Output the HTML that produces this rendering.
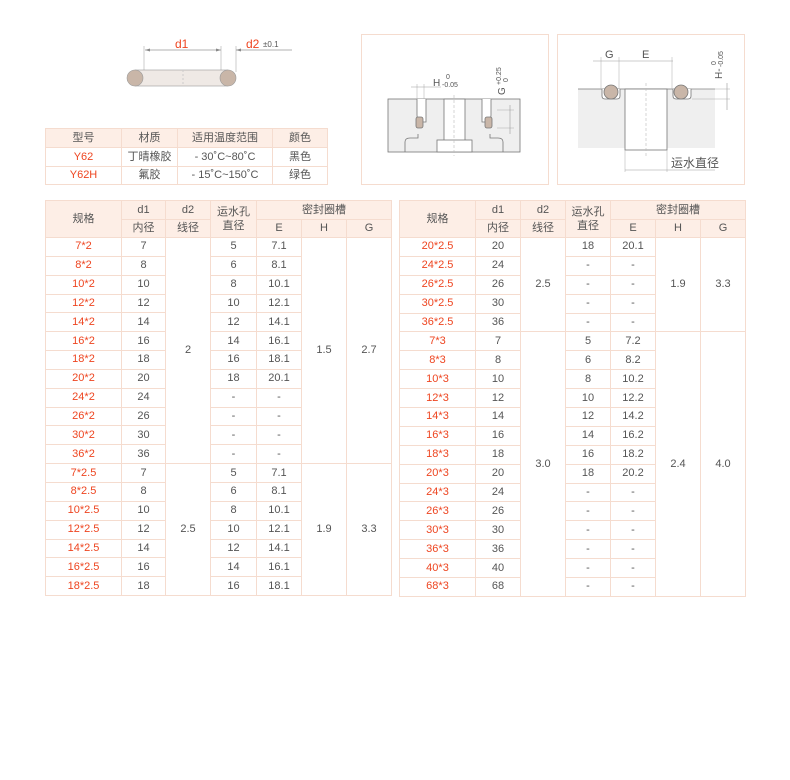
<!DOCTYPE html>
<html><head><meta charset="utf-8"><style>
body{margin:0;background:#fff;width:790px;height:780px;position:relative;font-family:"Liberation Sans","Noto Sans CJK SC",sans-serif;color:#555;font-size:11px;overflow:hidden}
table{position:absolute;border-collapse:collapse;table-layout:fixed}
td{border:1px solid #f5dccf;text-align:center;padding:0;line-height:1;white-space:nowrap;overflow:hidden}
.h td{background:#fdeee6}
.r{color:#ee4520}
.box{position:absolute;border:1px solid #f5dccf;box-sizing:border-box}
#t3 tr.d td.r{height:17.9px}
</style></head><body>

<svg style="position:absolute;left:0;top:0" width="790" height="200">
 <line x1="145" y1="50" x2="221" y2="50" stroke="#999" stroke-width="0.7"/>
 <polygon points="145,50 150,48.5 150,51.5" fill="#888"/><polygon points="221,50 216,48.5 216,51.5" fill="#888"/>
 <line x1="144" y1="46" x2="144" y2="72" stroke="#aaa" stroke-width="0.6"/>
 <line x1="221" y1="46" x2="221" y2="72" stroke="#aaa" stroke-width="0.6"/>
 <line x1="236" y1="46" x2="236" y2="72" stroke="#aaa" stroke-width="0.6"/>
 <line x1="236" y1="50" x2="292" y2="50" stroke="#999" stroke-width="0.7"/>
 <polygon points="236,50 241,48.5 241,51.5" fill="#888"/>
 <text x="175" y="48" fill="#ee4520" font-size="12">d1</text>
 <text x="246" y="48" fill="#ee4520" font-size="12">d2</text>
 <text x="263" y="47" fill="#555" font-size="8">±0.1</text>
 <rect x="135" y="70" width="93" height="16" fill="#efe9e5" stroke="#999" stroke-width="0.6"/>
 <line x1="183" y1="70" x2="183" y2="86" stroke="#ccc" stroke-dasharray="2,2"/>
 <circle cx="135" cy="78" r="8" fill="#c9b6a8" stroke="#999" stroke-width="0.6"/>
 <circle cx="228" cy="78" r="8" fill="#c9b6a8" stroke="#999" stroke-width="0.6"/>
</svg>

<div class="box" style="left:361px;top:34px;width:188px;height:151px"></div>
<div class="box" style="left:557px;top:34px;width:188px;height:151px"></div>

<svg style="position:absolute;left:0;top:0" width="790" height="200">
 <rect x="388" y="99" width="132" height="53" fill="#efefef" stroke="#777" stroke-width="0.8"/>
 <rect x="444" y="99" width="21" height="42" fill="#fff" stroke="#777" stroke-width="0.8"/>
 <rect x="437" y="140" width="35" height="12" fill="#fff" stroke="#777" stroke-width="0.8"/>
 <path d="M417 99 V115 Q417 122 424 122 H426 V99" fill="#fff" stroke="#777" stroke-width="0.8"/>
 <path d="M491 99 V115 Q491 122 484 122 H482 V99" fill="#fff" stroke="#777" stroke-width="0.8"/>
 <rect x="416" y="117" width="7" height="11" rx="2" fill="#c9b6a8" stroke="#777" stroke-width="0.8"/>
 <rect x="485" y="117" width="7" height="11" rx="2" fill="#c9b6a8" stroke="#777" stroke-width="0.8"/>
 <path d="M405 152 V142 Q405 138 410 138 H418 V134 M503 152 V142 Q503 138 498 138 H490 V134" fill="none" stroke="#777" stroke-width="0.8"/>
 <line x1="454" y1="95" x2="454" y2="156" stroke="#bbb" stroke-dasharray="3,2" stroke-width="0.6"/>
 <line x1="411" y1="87" x2="441" y2="87" stroke="#999" stroke-width="0.6"/>
 <line x1="417" y1="84" x2="417" y2="99" stroke="#aaa" stroke-width="0.5"/><line x1="424" y1="84" x2="424" y2="99" stroke="#aaa" stroke-width="0.5"/>
 <text x="433" y="86" font-size="10" fill="#555">H</text><text x="446" y="79" font-size="7" fill="#555">0</text><text x="442" y="87" font-size="7" fill="#555">-0.05</text>
 <line x1="497" y1="110" x2="514" y2="110" stroke="#aaa" stroke-width="0.5"/><line x1="497" y1="128" x2="514" y2="128" stroke="#aaa" stroke-width="0.5"/>
 <line x1="510" y1="105" x2="510" y2="134" stroke="#999" stroke-width="0.6"/>
 <text transform="translate(505,95) rotate(-90)" font-size="10" fill="#555">G</text>
 <text transform="translate(501,85) rotate(-90)" font-size="7" fill="#555">+0.25</text>
 <text transform="translate(508,82) rotate(-90)" font-size="7" fill="#555">0</text>
 <rect x="578" y="89" width="137" height="59" fill="#efefef"/>
 <line x1="578" y1="89" x2="715" y2="89" stroke="#777" stroke-width="0.8"/>
 <rect x="625" y="89" width="42" height="61" fill="#fff" stroke="#777" stroke-width="0.8"/>
 <path d="M602 89 V96 Q602 99 605 99 H617 Q620 99 620 96 V89" fill="#fff" stroke="#777" stroke-width="0.8"/>
 <path d="M673 89 V96 Q673 99 676 99 H688 Q691 99 691 96 V89" fill="#fff" stroke="#777" stroke-width="0.8"/>
 <circle cx="611" cy="92" r="7" fill="#c9b6a8" stroke="#777" stroke-width="0.8"/>
 <circle cx="681" cy="92" r="7" fill="#c9b6a8" stroke="#777" stroke-width="0.8"/>
 <line x1="646" y1="83" x2="646" y2="158" stroke="#bbb" stroke-dasharray="3,2" stroke-width="0.6"/>
 <line x1="593" y1="61" x2="673" y2="61" stroke="#999" stroke-width="0.6"/>
 <line x1="601" y1="57" x2="601" y2="89" stroke="#aaa" stroke-width="0.5"/><line x1="619" y1="57" x2="619" y2="89" stroke="#aaa" stroke-width="0.5"/><line x1="672" y1="57" x2="672" y2="89" stroke="#aaa" stroke-width="0.5"/>
 <text x="605" y="58" font-size="11" fill="#555">G</text><text x="642" y="58" font-size="11" fill="#555">E</text>
 <line x1="692" y1="89" x2="730" y2="89" stroke="#aaa" stroke-width="0.5"/><line x1="692" y1="99" x2="730" y2="99" stroke="#aaa" stroke-width="0.5"/>
 <line x1="727" y1="83" x2="727" y2="110" stroke="#999" stroke-width="0.6"/>
 <text transform="translate(722,79) rotate(-90)" font-size="10" fill="#555">H-</text>
 <text transform="translate(723,67) rotate(-90)" font-size="7" fill="#555">-0.05</text>
 <text transform="translate(716,65) rotate(-90)" font-size="7" fill="#555">0</text>
 <line x1="625" y1="150" x2="625" y2="172" stroke="#aaa" stroke-width="0.5"/><line x1="667" y1="150" x2="667" y2="172" stroke="#aaa" stroke-width="0.5"/>
 <line x1="625" y1="170" x2="715" y2="170" stroke="#999" stroke-width="0.6"/>
 <text x="671" y="167" font-size="12" fill="#555">运水直径</text>
</svg>

<table style="left:45px;top:128px;width:282px">
<colgroup><col style="width:76px"><col style="width:56px"><col style="width:95px"><col style="width:55px"></colgroup>
<tr class="h" style="height:19px"><td>型号</td><td>材质</td><td>适用温度范围</td><td>颜色</td></tr>
<tr style="height:19px"><td class="r">Y62</td><td>丁晴橡胶</td><td>- 30˚C~80˚C</td><td>黑色</td></tr>
<tr style="height:18px"><td class="r">Y62H</td><td>氟胶</td><td>- 15˚C~150˚C</td><td>绿色</td></tr>
</table>

<table style="left:45px;top:200px;width:346px">
<colgroup><col style="width:76px"><col style="width:44px"><col style="width:45px"><col style="width:46px"><col style="width:45px"><col style="width:45px"><col style="width:45px"></colgroup>
<tr class="h" style="height:19px"><td rowspan="2">规格</td><td>d1</td><td>d2</td><td rowspan="2" style="line-height:1.3">运水孔<br>直径</td><td colspan="3">密封圈槽</td></tr>
<tr class="h" style="height:18px"><td>内径</td><td>线径</td><td>E</td><td>H</td><td>G</td></tr>
<tr style="height:18.85px"><td class="r">7*2</td><td>7</td><td rowspan="12">2</td><td>5</td><td>7.1</td><td rowspan="12">1.5</td><td rowspan="12">2.7</td></tr>
<tr style="height:18.85px"><td class="r">8*2</td><td>8</td><td>6</td><td>8.1</td></tr>
<tr style="height:18.85px"><td class="r">10*2</td><td>10</td><td>8</td><td>10.1</td></tr>
<tr style="height:18.85px"><td class="r">12*2</td><td>12</td><td>10</td><td>12.1</td></tr>
<tr style="height:18.85px"><td class="r">14*2</td><td>14</td><td>12</td><td>14.1</td></tr>
<tr style="height:18.85px"><td class="r">16*2</td><td>16</td><td>14</td><td>16.1</td></tr>
<tr style="height:18.85px"><td class="r">18*2</td><td>18</td><td>16</td><td>18.1</td></tr>
<tr style="height:18.85px"><td class="r">20*2</td><td>20</td><td>18</td><td>20.1</td></tr>
<tr style="height:18.85px"><td class="r">24*2</td><td>24</td><td>-</td><td>-</td></tr>
<tr style="height:18.85px"><td class="r">26*2</td><td>26</td><td>-</td><td>-</td></tr>
<tr style="height:18.85px"><td class="r">30*2</td><td>30</td><td>-</td><td>-</td></tr>
<tr style="height:18.85px"><td class="r">36*2</td><td>36</td><td>-</td><td>-</td></tr>
<tr style="height:18.85px"><td class="r">7*2.5</td><td>7</td><td rowspan="7">2.5</td><td>5</td><td>7.1</td><td rowspan="7">1.9</td><td rowspan="7">3.3</td></tr>
<tr style="height:18.85px"><td class="r">8*2.5</td><td>8</td><td>6</td><td>8.1</td></tr>
<tr style="height:18.85px"><td class="r">10*2.5</td><td>10</td><td>8</td><td>10.1</td></tr>
<tr style="height:18.85px"><td class="r">12*2.5</td><td>12</td><td>10</td><td>12.1</td></tr>
<tr style="height:18.85px"><td class="r">14*2.5</td><td>14</td><td>12</td><td>14.1</td></tr>
<tr style="height:18.85px"><td class="r">16*2.5</td><td>16</td><td>14</td><td>16.1</td></tr>
<tr style="height:18.85px"><td class="r">18*2.5</td><td>18</td><td>16</td><td>18.1</td></tr>
</table>

<table id="t3" style="left:399px;top:200px;width:346px;height:396px">
<colgroup><col style="width:76px"><col style="width:45px"><col style="width:45px"><col style="width:45px"><col style="width:45px"><col style="width:45px"><col style="width:45px"></colgroup>
<tr class="h" style="height:19px"><td rowspan="2">规格</td><td>d1</td><td>d2</td><td rowspan="2" style="line-height:1.3">运水孔<br>直径</td><td colspan="3">密封圈槽</td></tr>
<tr class="h" style="height:18px"><td>内径</td><td>线径</td><td>E</td><td>H</td><td>G</td></tr>
<tr class="d"><td class="r">20*2.5</td><td>20</td><td rowspan="5">2.5</td><td>18</td><td>20.1</td><td rowspan="5">1.9</td><td rowspan="5">3.3</td></tr>
<tr class="d"><td class="r">24*2.5</td><td>24</td><td>-</td><td>-</td></tr>
<tr class="d"><td class="r">26*2.5</td><td>26</td><td>-</td><td>-</td></tr>
<tr class="d"><td class="r">30*2.5</td><td>30</td><td>-</td><td>-</td></tr>
<tr class="d"><td class="r">36*2.5</td><td>36</td><td>-</td><td>-</td></tr>
<tr class="d"><td class="r">7*3</td><td>7</td><td rowspan="15">3.0</td><td>5</td><td>7.2</td><td rowspan="15">2.4</td><td rowspan="15">4.0</td></tr>
<tr class="d"><td class="r">8*3</td><td>8</td><td>6</td><td>8.2</td></tr>
<tr class="d"><td class="r">10*3</td><td>10</td><td>8</td><td>10.2</td></tr>
<tr class="d"><td class="r">12*3</td><td>12</td><td>10</td><td>12.2</td></tr>
<tr class="d"><td class="r">14*3</td><td>14</td><td>12</td><td>14.2</td></tr>
<tr class="d"><td class="r">16*3</td><td>16</td><td>14</td><td>16.2</td></tr>
<tr class="d"><td class="r">18*3</td><td>18</td><td>16</td><td>18.2</td></tr>
<tr class="d"><td class="r">20*3</td><td>20</td><td>18</td><td>20.2</td></tr>
<tr class="d"><td class="r">24*3</td><td>24</td><td>-</td><td>-</td></tr>
<tr class="d"><td class="r">26*3</td><td>26</td><td>-</td><td>-</td></tr>
<tr class="d"><td class="r">30*3</td><td>30</td><td>-</td><td>-</td></tr>
<tr class="d"><td class="r">36*3</td><td>36</td><td>-</td><td>-</td></tr>
<tr class="d"><td class="r">40*3</td><td>40</td><td>-</td><td>-</td></tr>
<tr class="d"><td class="r">68*3</td><td>68</td><td>-</td><td>-</td></tr>
</table>
</body></html>
